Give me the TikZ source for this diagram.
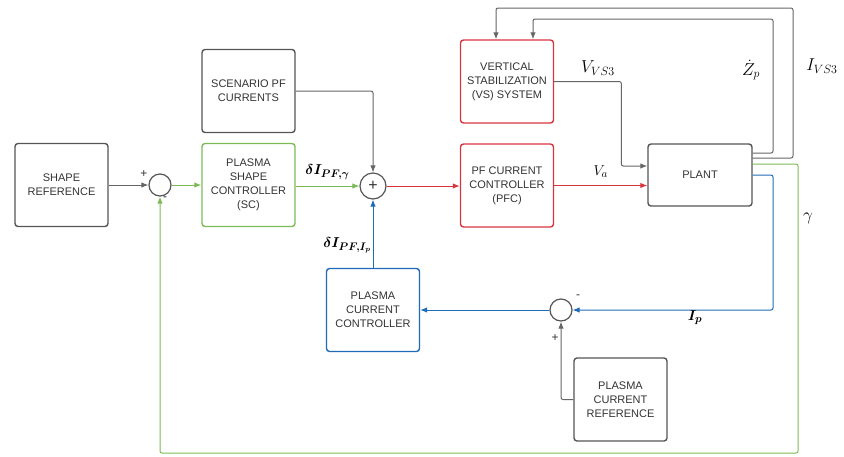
\documentclass[tikz,border=0pt]{standalone}
\usepackage{fontspec}
\setmainfont{Liberation Sans}
\usepackage{amsmath}
\usepackage{bm}
\usetikzlibrary{arrows.meta}
\definecolor{boxgray}{HTML}{555555}
\definecolor{linegray}{HTML}{666666}
\definecolor{txtgray}{HTML}{333333}
\definecolor{scgreen}{HTML}{7DBA55}
\definecolor{pfred}{HTML}{D8343E}
\definecolor{ipblue}{HTML}{1E6BB8}
\begin{document}
\begin{tikzpicture}[x=1pt,y=-1pt,
    blockbox/.style={draw=#1,line width=1.4pt,rounded corners=3pt,minimum width=93pt,
      minimum height=83pt,align=center,text=txtgray,font=\fontsize{11}{14}\selectfont},
    blockbox/.default=boxgray,
    sumnode/.style={circle,draw=boxgray,line width=1.2pt,minimum size=22pt,inner sep=0pt,
      text=txtgray,font=\fontsize{16}{16}\selectfont},
    sig/.style={line width=1pt,rounded corners=2pt,-{Latex[length=7pt,width=5.5pt]}},
    lbl/.style={text=black,font=\fontsize{15}{15}\selectfont},
    biglbl/.style={text=black,font=\fontsize{18}{18}\selectfont},
    sgn/.style={font=\fontsize{12}{12}\selectfont,text=txtgray}]
                \useasboundingbox (0,0) rectangle (844,456);
                % blocks
                \node[blockbox] (ShapeRef) at (61.5,185) {SHAPE\\REFERENCE};
                \node[sumnode] (S1) at (160,185) {};
                \node[blockbox=scgreen] (PSC) at (248.5,185) {PLASMA\\SHAPE\\CONTROLLER\\(SC)};
                \node[blockbox] (Scen) at (248.5,91) {SCENARIO PF\\CURRENTS};
                \node[sumnode,minimum size=26pt] (S2) at (373,186) {+};
                \node[blockbox=pfred] (PFC) at (507,185.5) {PF CURRENT\\CONTROLLER\\(PFC)};
                \node[blockbox=pfred] (VS) at (507,81.5) {VERTICAL\\STABILIZATION\\(VS) SYSTEM};
                \node[blockbox,minimum width=104pt,minimum height=62pt] (Plant) at (700,175) {PLANT};
                \node[blockbox=ipblue] (PCC) at (373,310) {PLASMA\\CURRENT\\CONTROLLER};
                \node[sumnode] (S3) at (561,310) {};
                \node[blockbox] (PCR) at (620.5,399.5) {PLASMA\\CURRENT\\REFERENCE};
                % signs
                \node[sgn] (S1p) at (144,174) {+};
                \node[sgn] (S1m) at (165,199) {-};
                \node[sgn] (S3m) at (578,297) {-};
                \node[sgn] (S3p) at (555,338) {+};
                % forward path
                \draw[sig,linegray] (ShapeRef) -- (S1);
                \draw[sig,scgreen] (S1) -- (PSC);
                \draw[sig,scgreen] (PSC.east |- S2) -- (S2) node[lbl,midway,above=3pt] {$\bm{\delta I_{PF,\gamma}}$};
                \draw[sig,linegray] (Scen.east) -| (S2.north);
                \draw[sig,pfred] (S2) -- (PFC.west |- S2);
                \draw[sig,pfred] (PFC) -- (Plant.west |- PFC) node[lbl,midway,above=4pt] {$V_a$};
                \draw[sig,linegray] (VS.east) -| ([xshift=-26pt,yshift=9pt]Plant.west) -- ([yshift=9pt]Plant.west);
                \node[biglbl] (VVSlbl) at (598,68) {$V_{VS3}$};
                % plant outputs
                \draw[sig,linegray] ([yshift=22pt]Plant.east) -| (773,19) -| ([xshift=26pt]VS.north);
                \draw[sig,linegray] ([yshift=17pt]Plant.east) -| (793,8) -| ([xshift=-11pt]VS.north);
                \node[biglbl] (Zlbl) at (751,70) {$\dot{Z}_p$};
                \node[biglbl] (IVSlbl) at (822,66) {$I_{VS3}$};
                \draw[sig,scgreen] ([yshift=11pt]Plant.east) -| (798,453) -| (S1.south);
                \node[biglbl] (glbl) at (808,218) {$\gamma$};
                \draw[sig,ipblue] (Plant.east) -| (773,310) -- (S3.east);
                \node[lbl] (Iplbl) at (695,318) {$\bm{I_p}$};
                \draw[sig,ipblue] (S3) -- (PCC);
                \draw[sig,ipblue] (PCC) -- (S2) node[lbl,pos=0.33,left=-2pt] {$\bm{\delta I_{PF,I_p}}$};
                \draw[sig,linegray] (PCR.west) -| (S3.south);
            \end{tikzpicture}
\end{document}
